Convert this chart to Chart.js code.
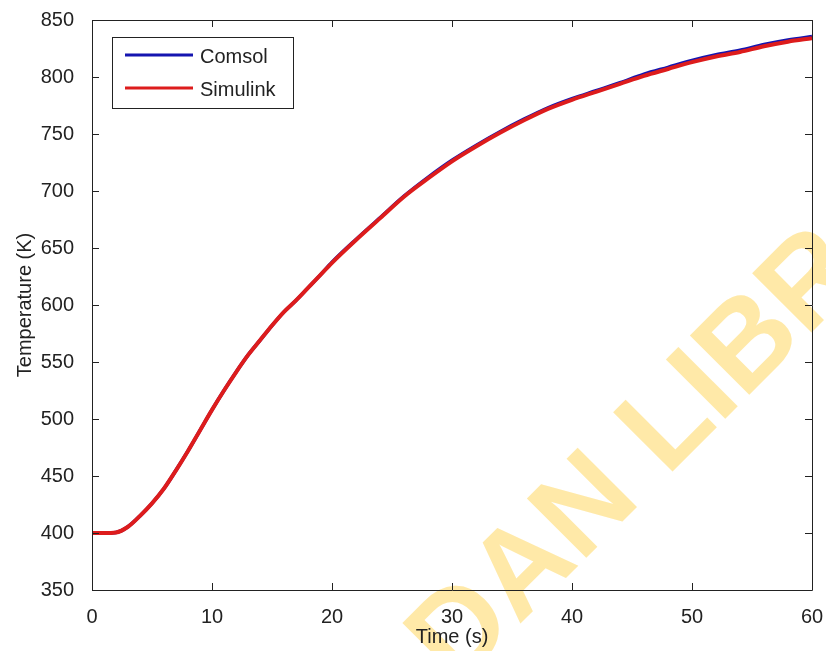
<!DOCTYPE html>
<html>
<head>
<meta charset="utf-8">
<script src="https://cdn.jsdelivr.net/npm/chart.js@4.4.1/dist/chart.umd.min.js"></script>
<style>
  html, body { margin: 0; padding: 0; background: #fff; }
  #wrap { width: 826px; height: 651px; }
</style>
</head>
<body>
<div id="wrap"><canvas id="chart"></canvas></div>
<script>
// values
const timeS = [0, 1, 2, 3, 4, 5, 6, 7, 8, 9, 10, 11, 12, 13, 14, 15, 16, 17, 18, 19, 20,
  22, 24, 26, 28, 30, 32, 34, 36, 38, 40, 42, 44, 46, 48, 50, 52, 54, 56, 58, 60];
const simulinkK = [400, 400, 400.5, 405.5, 415, 426, 439, 455, 472, 490, 508, 525, 541, 556, 569, 582, 594, 604, 615, 626, 637,
  657, 676, 695, 711, 726, 739, 751, 762, 772, 780, 787, 794, 801, 807, 813, 818, 822, 827, 831, 834];
const comsolK = [400, 400, 400.5, 405.5, 415, 426, 439, 455, 472, 490, 508, 525, 541, 556, 569, 582, 594, 604, 615, 626, 637.5,
  657.5, 676.5, 695.5, 712, 727, 740, 752, 763, 773, 781, 788, 795, 802.5, 808.5, 814.5, 819.5, 823.5, 828.5, 832.5, 835.5];
const seriesNames = ["Comsol", "Simulink"];
const seriesColors = ["#1515b0", "#dd1c1c"];
const xTicks = [0, 10, 20, 30, 40, 50, 60];
const yTicks = [350, 400, 450, 500, 550, 600, 650, 700, 750, 800, 850];

const toPoints = (ys) => timeS.map((t, i) => ({ x: t, y: ys[i] }));
const axisFont = { family: "'Liberation Sans', Arial, sans-serif", size: 20 };
const inkColor = "#222";

// watermark behind everything
const watermark = {
  id: "watermark",
  beforeDraw(chart) {
    const ctx = chart.ctx;
    ctx.save();
    ctx.translate(456, 688);
    ctx.rotate(-Math.PI / 4);
    ctx.fillStyle = "#ffe9a8";
    ctx.font = "bold 122px 'Liberation Sans', Arial, sans-serif";
    ctx.textBaseline = "alphabetic";
    ctx.fillText("DAN LIBRARY", 0, 0);
    ctx.restore();
  },
};

// matlab style box, inward ticks and boxed legend
const matlabFrame = {
  id: "matlabFrame",
  afterDatasetsDraw(chart) {
    const { ctx, chartArea: a, scales } = chart;
    const tick = 7;
    ctx.save();
    ctx.strokeStyle = inkColor;
    ctx.lineWidth = 1;
    ctx.beginPath();
    ctx.rect(a.left + 0.5, a.top + 0.5, a.right - a.left, a.bottom - a.top);
    xTicks.forEach((v) => {
      const px = Math.round(scales.x.getPixelForValue(v)) + 0.5;
      ctx.moveTo(px, a.bottom); ctx.lineTo(px, a.bottom - tick);
      ctx.moveTo(px, a.top); ctx.lineTo(px, a.top + tick);
    });
    yTicks.forEach((v) => {
      const py = Math.round(scales.y.getPixelForValue(v)) + 0.5;
      ctx.moveTo(a.left, py); ctx.lineTo(a.left + tick, py);
      ctx.moveTo(a.right, py); ctx.lineTo(a.right - tick, py);
    });
    ctx.stroke();

    // legend
    const lx = 112, ly = 37, lw = 181, lh = 71;
    ctx.fillStyle = "#fff";
    ctx.fillRect(lx, ly, lw, lh);
    ctx.strokeRect(lx + 0.5, ly + 0.5, lw, lh);
    ctx.font = "20px 'Liberation Sans', Arial, sans-serif";
    ctx.textBaseline = "middle";
    seriesNames.forEach((name, i) => {
      const y = ly + 18 + i * 33;
      ctx.strokeStyle = seriesColors[i];
      ctx.lineWidth = 3;
      ctx.beginPath();
      ctx.moveTo(lx + 13, y);
      ctx.lineTo(lx + 81, y);
      ctx.stroke();
      ctx.fillStyle = inkColor;
      ctx.fillText(name, lx + 88, y + 2);
    });
    ctx.restore();
  },
};

const config = {
  type: "line",
  data: {
    datasets: [
      {
        label: seriesNames[0],
        data: toPoints(comsolK),
        borderColor: seriesColors[0],
        borderWidth: 3.5,
        pointRadius: 0,
        fill: false,
        cubicInterpolationMode: "monotone",
        order: 2,
      },
      {
        label: seriesNames[1],
        data: toPoints(simulinkK),
        borderColor: seriesColors[1],
        borderWidth: 4,
        pointRadius: 0,
        fill: false,
        cubicInterpolationMode: "monotone",
        order: 1,
      },
    ],
  },
  options: {
    responsive: true,
    maintainAspectRatio: false,
    animation: false,
    layout: { padding: { top: 20, right: 14, left: 0, bottom: 0 } },
    plugins: { legend: { display: false }, tooltip: { enabled: false } },
    scales: {
      x: {
        type: "linear",
        min: 0,
        max: 60,
        afterBuildTicks: (scale) => { scale.ticks = xTicks.map((v) => ({ value: v })); },
        ticks: { font: axisFont, color: inkColor, padding: 7, maxRotation: 0 },
        grid: { display: false },
        border: { display: false },
        title: { display: true, text: "Time (s)", font: axisFont, color: inkColor, padding: { top: 0, bottom: 2 } },
        afterFit: (scale) => {
          scale.height = 61;
          scale.paddingLeft = 0;
          scale.paddingRight = 0;
        },
      },
      y: {
        type: "linear",
        min: 350,
        max: 850,
        afterBuildTicks: (scale) => { scale.ticks = yTicks.map((v) => ({ value: v })); },
        ticks: { font: axisFont, color: inkColor, padding: 10 },
        grid: { display: false },
        border: { display: false },
        title: { display: true, text: "Temperature (K)", font: axisFont, color: inkColor, padding: { top: 13, bottom: 0 } },
        afterFit: (scale) => {
          scale.width = 92;
          scale.paddingTop = 0;
          scale.paddingBottom = 0;
        },
      },
    },
  },
  plugins: [watermark, matlabFrame],
};

new Chart(document.getElementById("chart"), config);
</script>
</body>
</html>
